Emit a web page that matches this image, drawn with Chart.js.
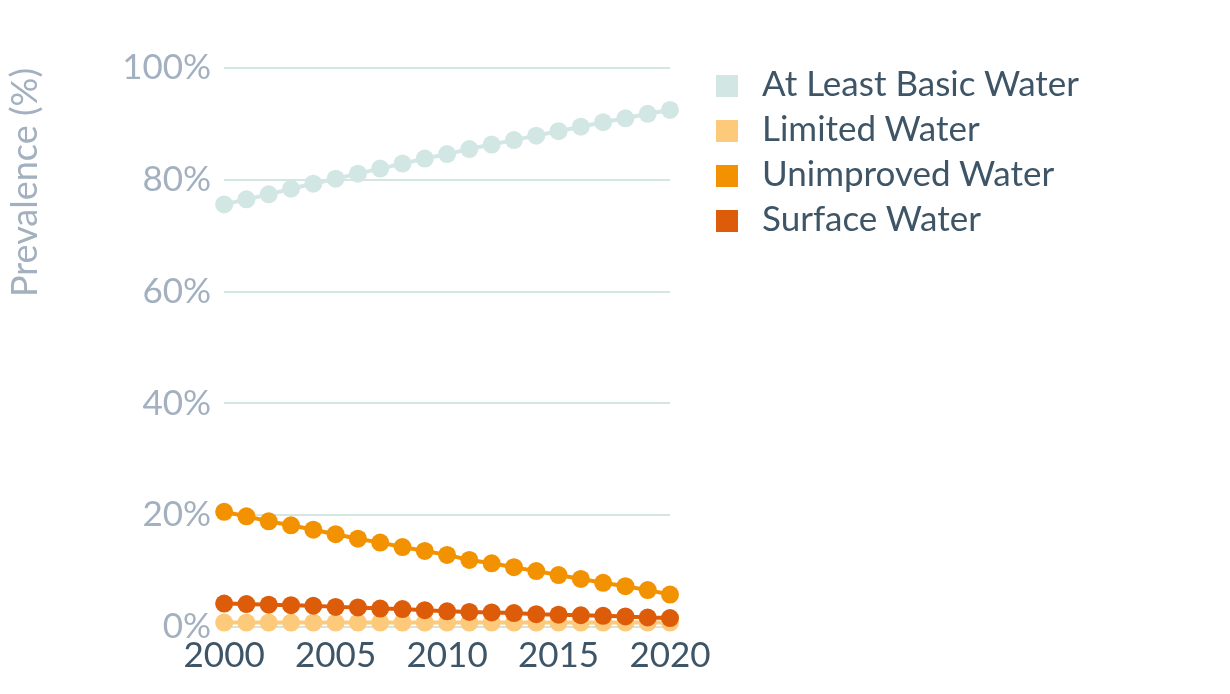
<!DOCTYPE html>
<html>
<head>
<meta charset="utf-8">
<script src="https://cdn.jsdelivr.net/npm/chart.js@4/dist/chart.umd.min.js"></script>
<style>
  html, body { margin: 0; padding: 0; background: #fff; }
  #wrap { position: relative; width: 1230px; height: 694px; }
  #legend { position: absolute; left: 716px; top: 59px; font-family: Lato, 'Open Sans', sans-serif;
            font-size: 35px; color: #3d5567; }
  #legend .row { height: 45px; display: flex; align-items: center; white-space: nowrap; }
  #legend .box { width: 22px; height: 22px; margin-right: 24px; flex: none; position: relative; top: 4px; }
</style>
</head>
<body>
<div id="wrap">
  <canvas id="chart" width="1230" height="694"></canvas>
  <div id="legend"></div>
</div>
<script>
const years = [2000, 2001, 2002, 2003, 2004, 2005, 2006, 2007, 2008, 2009, 2010,
               2011, 2012, 2013, 2014, 2015, 2016, 2017, 2018, 2019, 2020];
const basicWater = [75.6, 76.5, 77.4, 78.4, 79.3, 80.2, 81.1, 82.0, 82.9, 83.8, 84.6,
                    85.5, 86.3, 87.1, 87.9, 88.7, 89.5, 90.3, 91.0, 91.8, 92.5];
const limitedWater = [0.8, 0.8, 0.8, 0.8, 0.8, 0.8, 0.8, 0.8, 0.8, 0.8, 0.8,
                      0.8, 0.8, 0.8, 0.8, 0.8, 0.8, 0.8, 0.8, 0.8, 0.8];
const unimprovedWater = [20.6, 19.8, 18.9, 18.2, 17.4, 16.6, 15.8, 15.1, 14.3, 13.6, 12.9,
                         12.0, 11.4, 10.7, 10.0, 9.3, 8.6, 7.9, 7.3, 6.6, 5.8];
const surfaceWater = [4.2, 4.1, 4.0, 3.9, 3.8, 3.6, 3.5, 3.3, 3.2, 3.0, 2.8,
                      2.7, 2.6, 2.5, 2.3, 2.2, 2.1, 2.0, 1.9, 1.7, 1.6];
const seriesNames = ["At Least Basic Water", "Limited Water", "Unimproved Water", "Surface Water"];
const seriesColors = ["#d2e7e4", "#fdc97b", "#f39200", "#dd5c0a"];
const seriesData = [basicWater, limitedWater, unimprovedWater, surfaceWater];
const drawOrder = [4, 3, 2, 1]; // surface sits on top of limited

const FONT = "Lato, 'Open Sans', sans-serif";

// HTML legend on the right
let legendEl = document.getElementById("legend");
seriesNames.forEach((name, i) => {
  let row = document.createElement("div");
  row.className = "row";
  let box = document.createElement("span");
  box.className = "box";
  box.style.background = seriesColors[i];
  let txt = document.createElement("span");
  txt.textContent = name;
  row.appendChild(box);
  row.appendChild(txt);
  legendEl.appendChild(row);
});

let datasets = seriesNames.map((name, i) => ({
  label: name,
  data: seriesData[i],
  borderColor: seriesColors[i],
  backgroundColor: seriesColors[i],
  pointBackgroundColor: seriesColors[i],
  pointBorderWidth: 0,
  pointRadius: 9,
  pointHoverRadius: 9,
  borderWidth: 4,
  tension: 0,
  clip: false,
  order: drawOrder[i]
}));

let ctx = document.getElementById("chart").getContext("2d");
let chart = new Chart(ctx, {
  type: "line",
  data: { labels: years, datasets: datasets },
  options: {
    responsive: false,
    animation: false,
    layout: { padding: { top: 68, right: 560, bottom: 17, left: 4 } },
    plugins: {
      tooltip: { enabled: false },
      legend: { display: false }
    },
    scales: {
      x: {
        offset: false,
        grid: { display: false },
        border: { display: false },
        ticks: {
          color: "#3d5567",
          font: { family: FONT, size: 35 },
          maxRotation: 0,
          autoSkip: false,
          padding: 0,
          callback: function(val, idx) {
            let y = years[idx];
            return y % 5 === 0 ? String(y) : null;
          }
        }
      },
      y: {
        min: 0,
        max: 100,
        border: { display: false },
        grid: { color: "#d3e6df", lineWidth: 2, drawTicks: false },
        ticks: {
          stepSize: 20,
          padding: 13,
          color: "#a3b0bf",
          font: { family: FONT, size: 35 },
          callback: v => v + "%"
        },
        title: {
          display: true,
          text: "Prevalence (%)",
          align: "end",
          color: "#a3b0bf",
          font: { family: FONT, size: 36 },
          padding: { top: 0, bottom: 62 }
        }
      }
    }
  }
});
</script>
</body>
</html>
